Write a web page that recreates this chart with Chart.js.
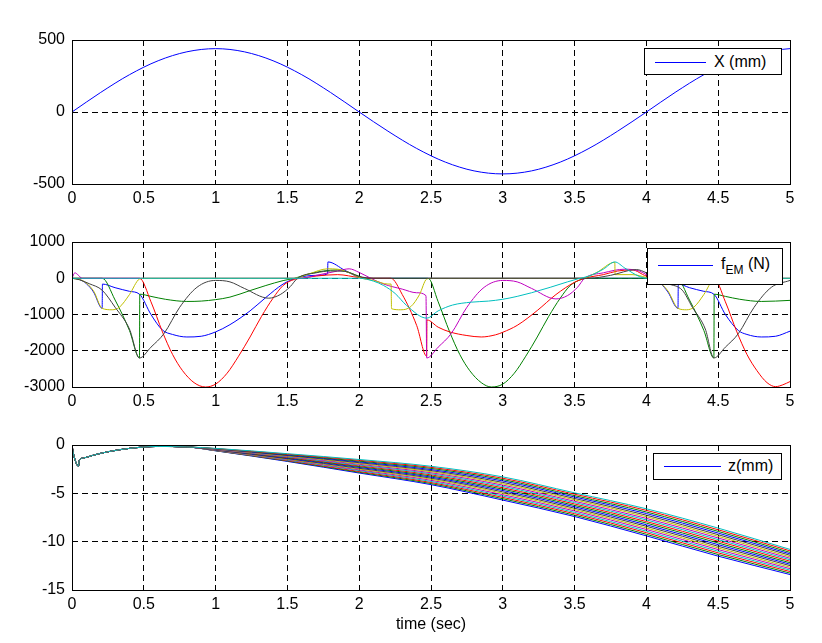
<!DOCTYPE html>
<html lang="en">
<head>
<meta charset="UTF-8">
<title>X, fEM and z against time</title>
<script src="https://cdn.jsdelivr.net/npm/chart.js"></script>
<style>
  body { margin: 0; background: #fff; }
  #wrap { position: relative; width: 822px; height: 643px; overflow: hidden; }
  canvas { position: absolute; left: 0; }
  .leg { position: absolute; box-sizing: border-box; border: 1px solid #000; background: #fff;
         font: 16px "Liberation Sans", Arial, sans-serif; color: #000; }
  .leg b { position: absolute; display: block; height: 1px; background: #0000ff; }
  .leg span { position: absolute; white-space: nowrap; line-height: 18px; }
  .leg sub { font-size: 12px; line-height: 0; vertical-align: -5px; }
</style>
</head>
<body>
<div id="wrap">
  <canvas id="cX" width="822" height="210" style="top:0"></canvas>
  <canvas id="cF" width="822" height="203" style="top:210px"></canvas>
  <canvas id="cZ" width="822" height="230" style="top:413px"></canvas>

  <div class="leg" style="left:644px;top:48px;width:138px;height:27px">
    <b style="left:10px;top:13px;width:51px"></b><span style="left:69px;top:4px">X (mm)</span>
  </div>
  <div class="leg" style="left:647px;top:248px;width:136px;height:37px">
    <b style="left:10px;top:16px;width:55px"></b><span style="left:73px;top:6px">f<sub>EM</sub> (N)</span>
  </div>
  <div class="leg" style="left:653px;top:453px;width:129px;height:27px">
    <b style="left:10px;top:12px;width:57px"></b><span style="left:74px;top:3px">z(mm)</span>
  </div>
</div>

<script>
// ---- data ----
const xTicks = [0, 0.5, 1, 1.5, 2, 2.5, 3, 3.5, 4, 4.5, 5];
const posTicks = [-500, 0, 500];
const fTicks = [-3000, -2000, -1000, 0, 1000];
const zTicks = [-15, -10, -5, 0];

// X (mm)
const posTime = [0, 0.2, 0.4, 0.6, 0.8, 1.0, 1.2, 1.4, 1.6, 1.8, 2.0, 2.2, 2.4,
                 2.6, 2.8, 3.0, 3.2, 3.4, 3.6, 3.8, 4.0, 4.2, 4.4, 4.6, 4.8, 5.0];
const posX = [0, 136, 259, 356, 418, 440, 418, 356, 259, 136, 0, -133, -253,
              -348, -409, -430, -409, -348, -253, -133, 0, 136, 259, 356, 418, 440];

// fEM (N), one list of [t, f] per coil
const fBlue = [[0,0],[0.05,-30],[0.1,-150],[0.15,-380],[0.21,-830],[0.212,-160],[0.3,-260],[0.4,-360],
  [0.47,-440],[0.55,-1000],[0.63,-1430],[0.7,-1550],[0.8,-1620],[0.9,-1600],[1.0,-1480],[1.1,-1280],
  [1.24,-900],[1.35,-530],[1.47,-160],[1.56,0],[1.7,80],[1.78,120],[1.782,450],[1.9,220],[2.0,30],[2.1,0],
  [4.0,0],[4.05,-30],[4.1,-150],[4.15,-380],[4.22,-830],[4.222,-160],[4.3,-260],[4.4,-360],[4.47,-440],
  [4.55,-1000],[4.64,-1440],[4.7,-1550],[4.8,-1620],[4.9,-1600],[5.0,-1460]];
const fGreen = [[0,0],[0.21,0],[0.3,-600],[0.4,-1440],[0.47,-2200],[0.472,-440],[0.55,-500],[0.65,-580],
  [0.8,-640],[0.9,-630],[1.0,-590],[1.1,-520],[1.24,-340],[1.35,-200],[1.47,-65],[1.55,0],[1.65,120],
  [1.75,200],[1.85,230],[1.95,130],[2.05,0],
  [2.48,0],[2.55,-650],[2.63,-1480],[2.7,-2100],[2.77,-2550],[2.85,-2880],[2.92,-3000],[3.0,-2920],
  [3.08,-2620],[3.16,-2150],[3.24,-1620],[3.32,-1050],[3.4,-550],[3.47,-200],[3.55,-30],[3.6,0],
  [4.21,0],[4.3,-600],[4.4,-1440],[4.47,-2200],[4.472,-440],[4.55,-500],[4.65,-580],[4.8,-640],
  [4.9,-630],[5.0,-610]];
const fRed = [[0,0],[0.47,0],[0.55,-650],[0.63,-1480],[0.7,-2100],[0.77,-2550],[0.85,-2880],[0.93,-3000],
  [1.0,-2920],[1.08,-2620],[1.16,-2150],[1.24,-1620],[1.32,-1050],[1.4,-550],[1.47,-200],[1.55,-30],
  [1.6,0],[1.7,60],[1.85,100],[2.0,20],[2.1,0],
  [2.22,0],[2.3,-450],[2.4,-1300],[2.47,-2150],[2.472,-1150],[2.55,-1350],[2.63,-1480],[2.75,-1580],
  [2.85,-1620],[2.95,-1560],[3.0,-1490],[3.1,-1300],[3.24,-890],[3.37,-450],[3.5,-110],[3.57,0],
  [3.7,100],[3.8,200],[3.9,230],[4.0,60],[4.1,0],
  [4.47,0],[4.55,-650],[4.63,-1480],[4.7,-2100],[4.77,-2550],[4.84,-2880],[4.9,-2990],[4.95,-2940],[5.0,-2850]];
const fCyan = [[0,0],[2.0,0],[2.1,-80],[2.17,-200],[2.25,-420],[2.33,-750],[2.47,-1100],[2.55,-900],
  [2.65,-740],[2.78,-660],[2.9,-630],[3.0,-580],[3.1,-500],[3.2,-400],[3.33,-250],[3.45,-100],[3.52,-20],
  [3.6,60],[3.7,250],[3.78,450],[3.85,280],[3.95,50],[4.0,0],[5.0,0]];
const fMagenta = [[0,0],[0.02,150],[0.04,100],[0.07,0],[1.6,0],[1.7,80],[1.85,200],[1.93,260],[2.0,160],
  [2.08,0],[2.17,-160],[2.3,-300],[2.4,-400],[2.465,-480],[2.47,-2200],[2.55,-1900],[2.64,-1530],
  [2.75,-800],[2.87,-250],[3.0,-60],[3.1,-100],[3.2,-280],[3.37,-570],[3.45,-480],[3.52,-250],[3.57,0],
  [3.7,150],[3.85,250],[3.95,200],[4.0,100],[4.05,0],[5.0,0]];
const fYellow = [[0,0],[0.08,-80],[0.15,-350],[0.21,-830],[0.28,-870],[0.33,-800],[0.4,-450],[0.47,-20],
  [0.5,0],[1.55,0],[1.65,120],[1.78,260],[1.85,250],[1.95,120],[2.0,20],[2.1,-60],[2.2,-160],
  [2.222,-160],[2.225,-840],[2.29,-870],[2.36,-780],[2.42,-450],[2.47,-20],[2.5,0],[3.55,0],[3.65,150],
  [3.78,440],[3.782,100],[3.9,100],[4.0,20],[4.08,-80],[4.15,-350],[4.22,-830],[4.28,-870],[4.33,-800],
  [4.4,-450],[4.47,-20],[4.5,0],[5.0,0]];
const fGray = [[0,0],[0.05,-40],[0.12,-150],[0.21,-330],[0.3,-800],[0.4,-1400],[0.47,-2200],[0.55,-1900],
  [0.64,-1530],[0.75,-800],[0.87,-250],[1.0,-60],[1.1,-100],[1.2,-280],[1.37,-550],[1.45,-450],
  [1.52,-230],[1.57,0],[1.7,150],[1.8,200],[1.9,190],[2.0,50],[2.1,0],[3.6,0],[3.75,80],[3.93,240],
  [4.0,150],[4.08,-30],[4.15,-150],[4.25,-330],[4.32,-800],[4.41,-1400],[4.47,-2200],[4.55,-1900],
  [4.64,-1530],[4.75,-800],[4.87,-250],[5.0,-60]];

// z (mm): common start, then one list per coil (bottom line first)
const zStartTime = [0, 0.01, 0.03, 0.045, 0.05, 0.08, 0.15, 0.25, 0.4, 0.6, 0.8];
const zStart = [0, -0.9, -1.9, -2.2, -1.6, -1.35, -1.05, -0.7, -0.35, -0.15, -0.2];
const zTime = [1.0, 1.5, 2.0, 2.5, 3.0, 3.5, 4.0, 4.5, 5.0];
const zLines = [
  [-0.60, -1.70, -2.90, -4.10, -5.70, -7.40, -9.40, -11.50, -13.40],
  [-0.59, -1.65, -2.82, -3.99, -5.56, -7.26, -9.24, -11.33, -13.25],
  [-0.57, -1.61, -2.74, -3.88, -5.42, -7.11, -9.07, -11.16, -13.09],
  [-0.56, -1.56, -2.65, -3.77, -5.28, -6.97, -8.91, -10.99, -12.94],
  [-0.54, -1.51, -2.57, -3.65, -5.14, -6.82, -8.74, -10.82, -12.79],
  [-0.53, -1.47, -2.49, -3.54, -4.99, -6.68, -8.58, -10.65, -12.64],
  [-0.51, -1.42, -2.41, -3.43, -4.85, -6.54, -8.41, -10.48, -12.48],
  [-0.50, -1.37, -2.32, -3.32, -4.71, -6.39, -8.25, -10.31, -12.33],
  [-0.48, -1.32, -2.24, -3.21, -4.57, -6.25, -8.08, -10.14, -12.18],
  [-0.47, -1.28, -2.16, -3.09, -4.43, -6.10, -7.92, -9.96, -12.02],
  [-0.45, -1.23, -2.08, -2.98, -4.29, -5.96, -7.75, -9.79, -11.87],
  [-0.44, -1.18, -1.99, -2.87, -4.15, -5.82, -7.59, -9.62, -11.72],
  [-0.42, -1.14, -1.91, -2.76, -4.01, -5.67, -7.42, -9.45, -11.57],
  [-0.41, -1.09, -1.83, -2.65, -3.87, -5.53, -7.26, -9.28, -11.41],
  [-0.39, -1.04, -1.75, -2.54, -3.72, -5.38, -7.09, -9.11, -11.26],
  [-0.38, -0.99, -1.67, -2.42, -3.58, -5.24, -6.93, -8.94, -11.11],
  [-0.37, -0.95, -1.58, -2.31, -3.44, -5.09, -6.76, -8.77, -10.95],
  [-0.35, -0.90, -1.50, -2.20, -3.30, -4.95, -6.60, -8.60, -10.80]
];

// ---- drawing ----
const mlColors = ['#0000ff', '#008000', '#ff0000', '#00bfbf', '#bf00bf', '#bfbf00', '#404040'];
const tickFont = { family: '"Liberation Sans", Arial, sans-serif', size: 16 };

function pts(pairs) { return pairs.map(p => ({ x: p[0], y: p[1] })); }

// matlab draws later lines on top, chart.js draws lower order on top
function stack(list) {
  return list.map((d, i) => Object.assign(d, { order: list.length - i, pointRadius: 0, borderWidth: 1 }));
}

const boxPlugin = {
  id: 'box',
  afterDraw(chart) {
    const a = chart.chartArea, ctx = chart.ctx;
    ctx.save();
    ctx.strokeStyle = '#000';
    ctx.lineWidth = 1;
    ctx.setLineDash([]);
    ctx.strokeRect(Math.round(a.left) + 0.5, Math.round(a.top) + 0.5,
                   Math.round(a.right - a.left), Math.round(a.bottom - a.top));
    ctx.restore();
  }
};

function subplot(id, datasets, yTickList, padTop, xHeight, xTitle) {
  const yMin = Math.min(...yTickList), yMax = Math.max(...yTickList);
  return new Chart(document.getElementById(id), {
    type: 'line',
    data: { datasets: stack(datasets) },
    options: {
      responsive: false,
      animation: false,
      events: [],
      layout: { padding: { top: padTop, right: 32, left: 0, bottom: 0 } },
      plugins: { legend: { display: false }, tooltip: { enabled: false } },
      elements: { line: { cubicInterpolationMode: 'monotone' } },
      scales: {
        x: {
          type: 'linear', min: 0, max: 5,
          afterBuildTicks: s => { s.ticks = xTicks.map(v => ({ value: v })); },
          afterFit: s => { s.height = xHeight; },
          ticks: { color: '#000', font: tickFont, padding: 5, maxRotation: 0, autoSkip: false,
                   callback: v => String(v) },
          grid: { color: '#000', drawTicks: false },
          border: { display: false, dash: [6, 4] },
          title: xTitle
            ? { display: true, text: xTitle, color: '#000', font: tickFont, padding: { top: 2, bottom: 9 } }
            : { display: false }
        },
        y: {
          type: 'linear', min: yMin, max: yMax,
          afterBuildTicks: s => { s.ticks = yTickList.map(v => ({ value: v })); },
          afterFit: s => { s.width = 72; },
          ticks: { color: '#000', font: tickFont, padding: 7, callback: v => String(v) },
          grid: { color: '#000', drawTicks: false },
          border: { display: false, dash: [6, 4] }
        }
      }
    },
    plugins: [boxPlugin]
  });
}

subplot('cX', [
  { data: posTime.map((t, i) => ({ x: t, y: posX[i] })), borderColor: mlColors[0] }
], posTicks, 40, 26);

subplot('cF', [
  { data: pts(fBlue), borderColor: mlColors[0] },
  { data: pts(fGreen), borderColor: mlColors[1] },
  { data: pts(fRed), borderColor: mlColors[2] },
  { data: pts(fMagenta), borderColor: mlColors[4] },
  { data: pts(fYellow), borderColor: mlColors[5] },
  { data: pts(fGray), borderColor: mlColors[6] },
  { data: pts(fCyan), borderColor: mlColors[3] }
], fTicks, 32, 26);

subplot('cZ', zLines.map((line, k) => ({
  data: zStartTime.map((t, i) => ({ x: t, y: zStart[i] }))
          .concat(zTime.map((t, i) => ({ x: t, y: line[i] }))),
  borderColor: mlColors[k % mlColors.length]
})), zTicks, 32, 53, 'time (sec)');
</script>
</body>
</html>
